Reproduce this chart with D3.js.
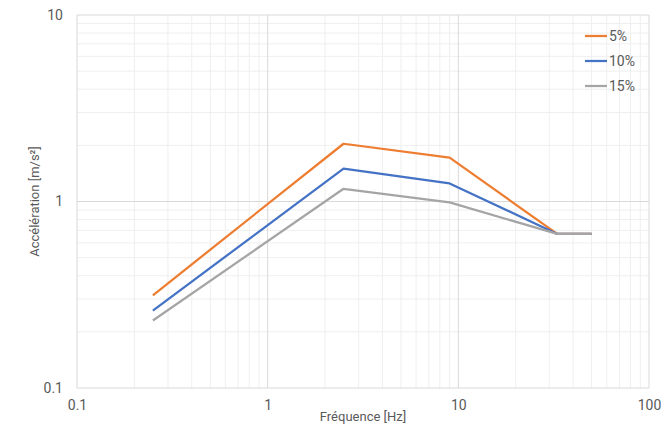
<!DOCTYPE html>
<html lang="fr">
<head>
    <meta charset="UTF-8">
    <title>Accélération vs fréquence</title>
    <style>
        body { margin: 0; background: #fff; }
        svg text { font-family: "Liberation Sans Narrow", "Roboto", sans-serif; fill: #595959; }
    </style>
</head>
<body>
    <div id="chart"></div>
    <script src="https://cdn.jsdelivr.net/npm/d3@7/dist/d3.min.js"></script>
    <script>
        // data
        const freqs = [0.25, 2.5, 9, 33, 50];
        const accel5 = [0.314, 2.04, 1.72, 0.67, 0.67];
        const accel10 = [0.26, 1.5, 1.25, 0.67, 0.67];
        const accel15 = [0.23, 1.17, 0.99, 0.67, 0.67];
        const seriesNames = ["5%", "10%", "15%"];
        const seriesColors = ["#ED7D31", "#4472C4", "#A5A5A5"];
        const xTicks = [0.1, 1, 10, 100];
        const yTicks = [0.1, 1, 10];

        const width = 661, height = 427;
        const plotLeft = 77, plotRight = 649, plotTop = 15, plotBottom = 388;

        const svg = d3.select("#chart")
            .append("svg")
            .attr("width", width)
            .attr("height", height);

        const x = d3.scaleLog().domain([0.1, 100]).range([plotLeft, plotRight]);
        const y = d3.scaleLog().domain([0.1, 10]).range([plotBottom, plotTop]);

        // minor grid (2..9 in each decade)
        const minorX = [], minorY = [];
        for (const dec of [0.1, 1, 10]) {
            for (let k = 2; k <= 9; k++) {
                minorX.push(dec * k);
                if (dec < 10) minorY.push(dec * k);
            }
        }

        const grid = svg.append("g");
        grid.selectAll("line.minor-x")
            .data(minorX)
            .join("line")
            .attr("x1", (d) => x(d)).attr("x2", (d) => x(d))
            .attr("y1", plotTop).attr("y2", plotBottom)
            .attr("stroke", "#efefef").attr("stroke-width", 1);
        grid.selectAll("line.minor-y")
            .data(minorY)
            .join("line")
            .attr("y1", (d) => y(d)).attr("y2", (d) => y(d))
            .attr("x1", plotLeft).attr("x2", plotRight)
            .attr("stroke", "#efefef").attr("stroke-width", 1);

        grid.selectAll("line.major-x")
            .data(xTicks)
            .join("line")
            .attr("x1", (d) => x(d)).attr("x2", (d) => x(d))
            .attr("y1", plotTop).attr("y2", plotBottom)
            .attr("stroke", "#d9d9d9").attr("stroke-width", 1);
        grid.selectAll("line.major-y")
            .data(yTicks)
            .join("line")
            .attr("y1", (d) => y(d)).attr("y2", (d) => y(d))
            .attr("x1", plotLeft).attr("x2", plotRight)
            .attr("stroke", "#d9d9d9").attr("stroke-width", 1);

        // axes (labels only)
        const fmt = (d) => String(d);
        const xAxis = svg.append("g")
            .attr("transform", `translate(0,${plotBottom})`)
            .call(d3.axisBottom(x).tickValues(xTicks).tickFormat(fmt).tickSize(0).tickPadding(12));
        const yAxis = svg.append("g")
            .attr("transform", `translate(${plotLeft},0)`)
            .call(d3.axisLeft(y).tickValues(yTicks).tickFormat(fmt).tickSize(0).tickPadding(14));
        [xAxis, yAxis].forEach((a) => {
            a.select(".domain").remove();
            a.selectAll("text").attr("font-size", 14).attr("fill", "#595959");
        });

        // series
        const allSeries = [accel5, accel10, accel15];
        const line = d3.line()
            .x((d) => x(d[0]))
            .y((d) => y(d[1]));

        svg.append("g")
            .selectAll("path")
            .data(allSeries)
            .join("path")
            .attr("d", (vals) => line(freqs.map((f, i) => [f, vals[i]])))
            .attr("fill", "none")
            .attr("stroke", (d, i) => seriesColors[i])
            .attr("stroke-width", 2.25)
            .attr("stroke-linejoin", "round");

        // legend
        const legend = svg.append("g");
        const rows = legend.selectAll("g")
            .data(seriesNames)
            .join("g")
            .attr("transform", (d, i) => `translate(585,${36 + i * 25})`);
        rows.append("line")
            .attr("x1", 0).attr("x2", 22)
            .attr("stroke", (d, i) => seriesColors[i])
            .attr("stroke-width", 2.25);
        rows.append("text")
            .attr("x", 24).attr("dy", "0.35em")
            .attr("font-size", 14)
            .text((d) => d);

        // axis titles
        svg.append("text")
            .attr("x", (plotLeft + plotRight) / 2)
            .attr("y", 421)
            .attr("text-anchor", "middle")
            .attr("font-size", 13)
            .text("Fréquence [Hz]");
        svg.append("text")
            .attr("transform", `translate(39,${(plotTop + plotBottom) / 2}) rotate(-90)`)
            .attr("text-anchor", "middle")
            .attr("font-size", 13)
            .text("Accélération [m/s²]");
    </script>
</body>
</html>
